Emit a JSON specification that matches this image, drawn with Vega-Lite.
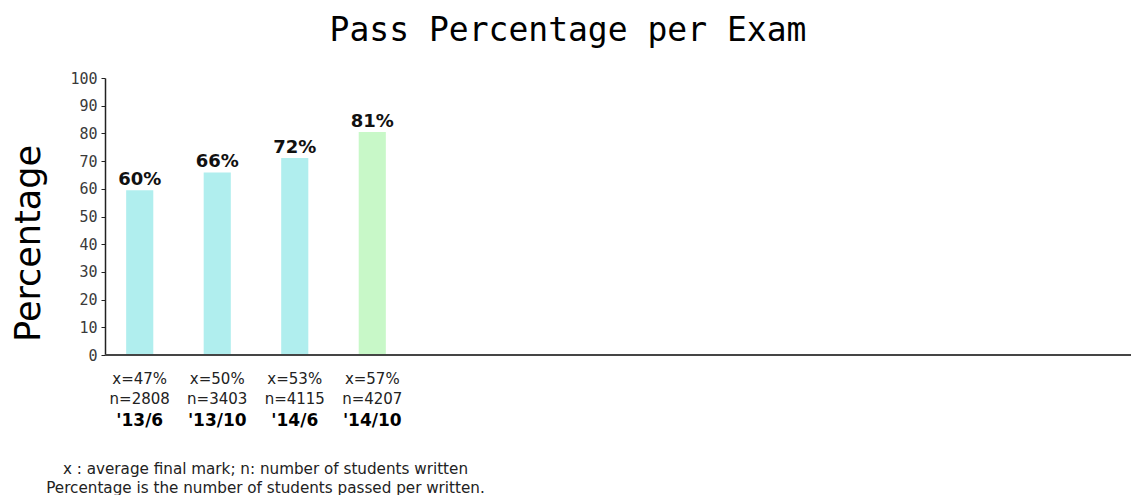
{
  "$schema": "https://vega.github.io/schema/vega-lite/v6.json",
  "width": 1026,
  "height": 277,
  "autosize": {"type": "none"},
  "padding": {"left": 105, "top": 78, "right": 0, "bottom": 140},
  "background": "white",
  "config": {"view": {"stroke": null}},
  "title": {
    "text": "Pass Percentage per Exam",
    "font": "DejaVu Sans Mono",
    "fontSize": 33,
    "fontWeight": "normal",
    "color": "#000000",
    "anchor": "middle",
    "dx": -50,
    "offset": 23
  },
  "data": {
    "values": [
      {"key": "x=47%|n=2808|'13/6", "pass": 59.5, "label": "60%", "group": "earlier"},
      {"key": "x=50%|n=3403|'13/10", "pass": 65.9, "label": "66%", "group": "earlier"},
      {"key": "x=53%|n=4115|'14/6", "pass": 71.1, "label": "72%", "group": "earlier"},
      {"key": "x=57%|n=4207|'14/10", "pass": 80.5, "label": "81%", "group": "latest"}
    ]
  },
  "layer": [
    {
      "mark": {"type": "bar"},
      "encoding": {
        "x": {
          "field": "key",
          "type": "nominal",
          "sort": null,
          "scale": {"range": [0, 302], "paddingInner": 0.65, "paddingOuter": 0.273},
          "axis": {
            "orient": "bottom",
            "title": null,
            "domain": false,
            "ticks": false,
            "labelAngle": 0,
            "labelExpr": "slice(split(datum.value, '|'), 0, 2)",
            "labelFont": "DejaVu Sans",
            "labelFontSize": 15,
            "labelColor": "#222222",
            "labelLineHeight": 20,
            "labelPadding": 16
          }
        },
        "y": {
          "field": "pass",
          "type": "quantitative",
          "scale": {"domain": [0, 100], "nice": false},
          "axis": {
            "title": "Percentage",
            "titleFont": "DejaVu Sans",
            "titleFontSize": 35,
            "titleFontWeight": "normal",
            "titleColor": "#000000",
            "titleAngle": -90,
            "titleX": -77,
            "titleY": 165,
            "titleAlign": "center",
            "titleBaseline": "middle",
            "values": [0, 10, 20, 30, 40, 50, 60, 70, 80, 90, 100],
            "labelOverlap": false,
            "grid": false,
            "domainColor": "#222222",
            "domainWidth": 1.5,
            "tickColor": "#222222",
            "tickSize": 4,
            "labelFont": "DejaVu Sans Mono",
            "labelFontSize": 15,
            "labelFontWeight": "normal",
            "labelColor": "#3a3a3a",
            "labelPadding": 4
          }
        },
        "color": {
          "field": "group",
          "type": "nominal",
          "scale": {"domain": ["earlier", "latest"], "range": ["#b0eeee", "#c8f8c8"]},
          "legend": null
        }
      }
    },
    {
      "mark": {"type": "text", "font": "DejaVu Sans", "fontSize": 18, "fontWeight": "bold", "baseline": "alphabetic", "dy": -5, "color": "#111111"},
      "encoding": {
        "x": {
          "field": "key",
          "type": "nominal",
          "sort": null,
          "axis": {
            "orient": "bottom",
            "domain": false,
            "ticks": false,
            "grid": false,
            "labelAngle": 0,
            "labelExpr": "split(datum.value, '|')[2]",
            "labelFont": "DejaVu Sans",
            "labelFontSize": 17,
            "labelFontWeight": "bold",
            "labelColor": "#000000",
            "labelPadding": 57,
            "title": ["x : average final mark; n: number of students written", "Percentage is the number of students passed per written."],
            "titleFont": "DejaVu Sans",
            "titleFontSize": 15.2,
            "titleFontWeight": "normal",
            "titleColor": "#222222",
            "titleX": 160,
            "titleY": 106,
            "titleAlign": "center",
            "titleBaseline": "top",
            "titleLineHeight": 19
          }
        },
        "y": {
          "field": "pass",
          "type": "quantitative",
          "axis": {
            "title": "Percentage",
            "titleFont": "DejaVu Sans",
            "titleFontSize": 35,
            "titleFontWeight": "normal",
            "titleColor": "#000000",
            "titleAngle": -90,
            "titleX": -77,
            "titleY": 165,
            "titleAlign": "center",
            "titleBaseline": "middle",
            "values": [0, 10, 20, 30, 40, 50, 60, 70, 80, 90, 100],
            "labelOverlap": false,
            "grid": false,
            "domainColor": "#222222",
            "domainWidth": 1.5,
            "tickColor": "#222222",
            "tickSize": 4,
            "labelFont": "DejaVu Sans Mono",
            "labelFontSize": 15,
            "labelFontWeight": "normal",
            "labelColor": "#3a3a3a",
            "labelPadding": 4
          }
        },
        "text": {"field": "label"}
      }
    },
    {
      "mark": {"type": "rule", "color": "#444444", "strokeWidth": 1.5},
      "encoding": {
        "y": {
          "datum": 0,
          "type": "quantitative",
          "axis": {
            "title": "Percentage",
            "titleFont": "DejaVu Sans",
            "titleFontSize": 35,
            "titleFontWeight": "normal",
            "titleColor": "#000000",
            "titleAngle": -90,
            "titleX": -77,
            "titleY": 165,
            "titleAlign": "center",
            "titleBaseline": "middle",
            "values": [0, 10, 20, 30, 40, 50, 60, 70, 80, 90, 100],
            "labelOverlap": false,
            "grid": false,
            "domainColor": "#222222",
            "domainWidth": 1.5,
            "tickColor": "#222222",
            "tickSize": 4,
            "labelFont": "DejaVu Sans Mono",
            "labelFontSize": 15,
            "labelFontWeight": "normal",
            "labelColor": "#3a3a3a",
            "labelPadding": 4
          }
        }
      }
    }
  ],
  "resolve": {"axis": {"x": "independent"}}
}
